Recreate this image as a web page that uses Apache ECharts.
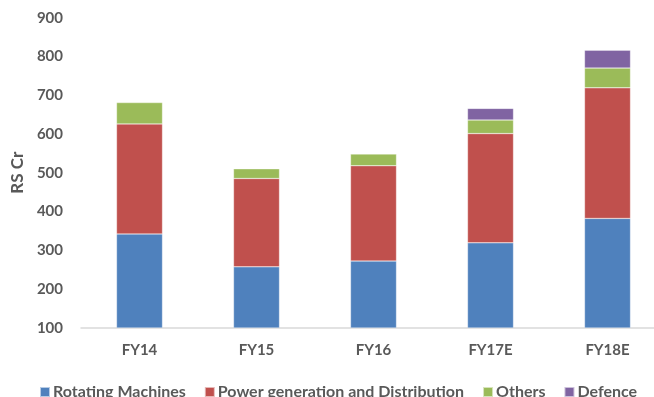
<!DOCTYPE html>
<html><head><meta charset="utf-8">
<script src="https://cdn.jsdelivr.net/npm/echarts@6/dist/echarts.min.js"></script>
<style>html,body{margin:0;padding:0;background:#fff}#c{width:654px;height:397px}</style>
</head><body><div id="c"></div>
<script>
const categories = ['FY14','FY15','FY16','FY17E','FY18E'];
const rotating = [342, 257, 272, 319, 382];
const power = [284, 228, 246, 282, 337];
const others = [55, 25, 30, 35, 51];
const defence = [null, null, null, 30, 46];
const seriesNames = ['Rotating Machines','Power generation and Distribution','Others','Defence'];
const colors = ['#4F81BD','#C0504D','#9BBB59','#8064A2'];
const font = 'Lato, "Open Sans", sans-serif';
const chart = echarts.init(document.getElementById('c'), null, {renderer:'canvas'});
const dataSets = [rotating, power, others, defence];
chart.setOption({
  animation:false,
  grid:{left:81, top:17.7, right:-12, bottom:69.3, outerBoundsMode:'none'},
  legend:{top:379, left:34, width:640, itemWidth:10, itemHeight:10, itemGap:18,
    icon:'rect',
    textStyle:{fontFamily:font, fontSize:16, fontWeight:'bold', color:'#595959', padding:[0,0,0,-2]},
    data:seriesNames},
  xAxis:{type:'category', data:categories,
    axisLine:{lineStyle:{color:'#D9D9D9', width:1.5}}, axisTick:{show:false},
    axisLabel:{fontFamily:font, fontSize:15, fontWeight:'bold', color:'#595959', margin:15}},
  yAxis:{type:'value', min:100, max:900, interval:100,
    name:'RS Cr', nameLocation:'middle', nameGap:55, nameRotate:90,
    nameTextStyle:{fontFamily:font, fontSize:17, fontWeight:'bold', color:'#595959'},
    splitLine:{show:false}, axisLine:{show:false}, axisTick:{show:false},
    axisLabel:{fontFamily:font, fontSize:15, fontWeight:'bold', color:'#595959', margin:18}},
  series: seriesNames.map((n,i)=>({
    name:n, type:'bar', stack:'total', data:dataSets[i], barWidth:46,
    itemStyle:{color:colors[i], borderColor:'rgba(255,255,255,0.6)', borderWidth:0.5}
  }))
});
</script></body></html>
